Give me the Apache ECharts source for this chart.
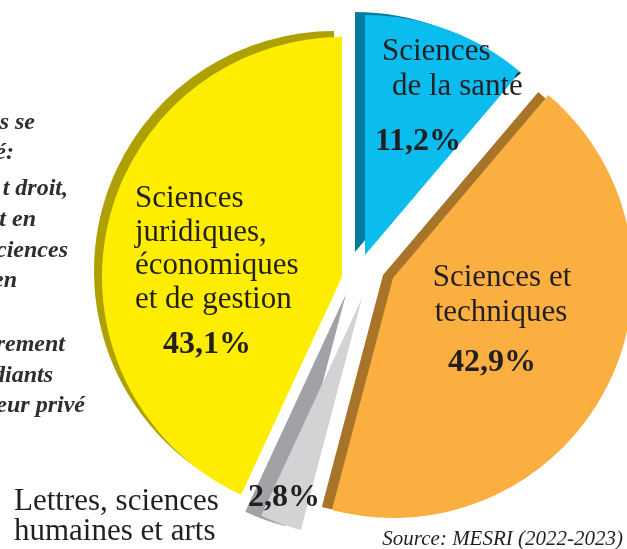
<!DOCTYPE html>
<html>
<head>
<meta charset="utf-8">
<script src="https://cdn.jsdelivr.net/npm/echarts@6/dist/echarts.min.js"></script>
<style>
  html, body { margin: 0; padding: 0; background: #fff; }
  #main { width: 627px; height: 549px; }
</style>
</head>
<body>
<div id="main"></div>
<script>
// domaines d'études, dans l'ordre horaire depuis midi
const categories = [
  'Sciences de la santé',
  'Sciences et techniques',
  'Lettres, sciences humaines et arts',
  'Sciences juridiques, économiques et de gestion'
];
const shares = [11.2, 42.9, 2.8, 43.1];
const shareLabels = ['11,2%', '42,9%', '2,8%', '43,1%'];

// mise en page : pointe de chaque part (éclatée) et décalage de la face latérale
const apexX = [365, 393, 362, 342];
const apexY = [255, 278, 298, 277];
const sideDx = [-10, -10, -16, -8];
const sideDy = [-3, -3, -4, -6];
const faceColors = ['#0bbcef', '#fbaf41', '#d1d3d4', '#ffed00'];
const sideColors = ['#077a9e', '#a8742a', '#a0a2a5', '#aea000'];
const R = 240;

var chartDom = document.getElementById('main');
var myChart = echarts.init(chartDom);

function sliceSeries(i, cx, cy, color, z) {
  return {
    type: 'pie',
    silent: true,
    z: z,
    center: [cx, cy],
    radius: [0, R],
    startAngle: 90,
    clockwise: true,
    label: { show: false },
    labelLine: { show: false },
    itemStyle: { borderWidth: 0 },
    data: shares.map(function (v, j) {
      return {
        value: v,
        name: categories[j],
        itemStyle: { color: j === i ? color : 'rgba(0,0,0,0)' }
      };
    })
  };
}

var series = [];
shares.forEach(function (v, i) {
  series.push(sliceSeries(i, apexX[i] + sideDx[i], apexY[i] + sideDy[i], sideColors[i], 1));
});
shares.forEach(function (v, i) {
  series.push(sliceSeries(i, apexX[i], apexY[i], faceColors[i], 2));
});

const serif = '"Liberation Serif", "DejaVu Serif", serif';
const ink = '#231f20';

function txt(text, x, y, font, align, fill) {
  return {
    type: 'text',
    z: 10,
    style: {
      text: text,
      x: x,
      y: y,
      font: font,
      fill: fill || ink,
      textAlign: align || 'left',
      textVerticalAlign: 'middle'
    }
  };
}

var regular = '31px ' + serif;
var bold = 'bold 32px ' + serif;
var side = 'italic bold 24px ' + serif;

var graphic = [
  // texte coupé à gauche
  txt('s se', 35, 123, side, 'right', '#2e2e2e'),
  txt('é:', 14, 153, side, 'right', '#2e2e2e'),
  txt('t droit,', 68, 189, side, 'right', '#2e2e2e'),
  txt('t en', 36, 220, side, 'right', '#2e2e2e'),
  txt('ciences', 68, 251, side, 'right', '#2e2e2e'),
  txt('en', 17, 281, side, 'right', '#2e2e2e'),
  txt('rement', 65, 345, side, 'right', '#2e2e2e'),
  txt('diants', 53, 376, side, 'right', '#2e2e2e'),
  txt('eur privé', 85, 406, side, 'right', '#2e2e2e'),

  // juridiques
  txt('Sciences', 135, 199, regular),
  txt('juridiques,', 135, 233, regular),
  txt('économiques', 135, 266, regular),
  txt('et de gestion', 135, 300, regular),
  txt(shareLabels[3], 207, 345, bold, 'center'),

  // santé
  txt('Sciences', 382, 52, regular),
  txt('de la santé', 392, 87, regular),
  txt(shareLabels[0], 418, 142, bold, 'center'),

  // techniques
  txt('Sciences et', 502, 278, regular, 'center'),
  txt('techniques', 501, 313, regular, 'center'),
  txt(shareLabels[1], 492, 363, bold, 'center'),

  // lettres
  txt(shareLabels[2], 284, 498, bold, 'center'),
  txt('Lettres, sciences', 14, 502, regular),
  txt('humaines et arts', 14, 532, regular),

  txt('Source: MESRI (2022-2023)', 623, 539, 'italic 21px ' + serif, 'right')
];

var option = {
  backgroundColor: '#ffffff',
  animation: false,
  series: series,
  graphic: graphic
};

option && myChart.setOption(option);
</script>
</body>
</html>
